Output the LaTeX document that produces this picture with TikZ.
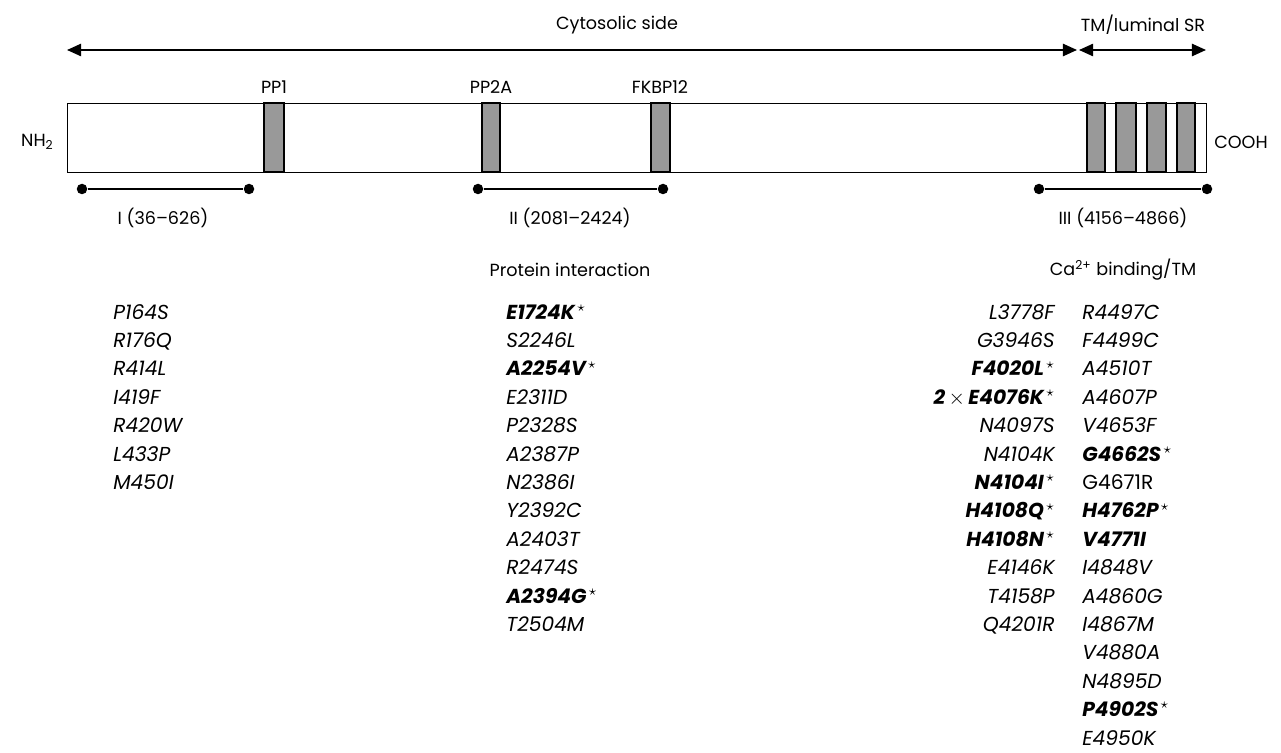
\documentclass[tikz,border=0pt]{standalone}
\usepackage{fontspec}
\setmainfont{Poppins}
\usetikzlibrary{arrows.meta}
\newcommand\mutb[1]{\textbf{\textit{#1}}}
\newcommand\mst{\textsuperscript{\,$\star$}}
\begin{document}
\begin{tikzpicture}[x=0.02cm,y=-0.02cm,
  lbl/.style={inner sep=0pt,font=\fontsize{10pt}{12pt}\selectfont},
  mut/.style={inner sep=0pt,font=\fontsize{11.5pt}{13pt}\selectfont\itshape},
  band/.style={draw=black,line width=0.7pt,fill=black!40},
  span/.style={line width=1.7pt},
  dot/.style={circle,fill=black,inner sep=0pt,minimum size=0.21cm},
  dbl/.style={line width=0.9pt,{Triangle[length=8pt,width=7pt]}-{Triangle[length=8pt,width=7pt]}}]
\useasboundingbox (0,0) rectangle (1281,753);
% top arrows
\coordinate (cytL) at (67,50);
\coordinate (cytR) at (1077,50);
\coordinate (tmL) at (1079,50);
\coordinate (tmR) at (1206,50);
\draw[dbl] (cytL) -- (cytR);
\draw[dbl] (tmL) -- (tmR);
\node[lbl] (cyt) at (617,25) {Cytosolic side};
\node[lbl] (tm) at (1143,25) {TM/luminal SR};
% protein bar
\node[draw,line width=0.7pt,minimum width=1139*0.02cm,minimum height=69*0.02cm,inner sep=0pt,anchor=north west] (bar) at (67,103) {};
\draw[band] (264,103) rectangle (284,172);
\draw[band] (482,103) rectangle (500,172);
\draw[band] (651,103) rectangle (670,172);
\draw[band] (1087,103) rectangle (1105,172);
\draw[band] (1116,103) rectangle (1136,172);
\draw[band] (1147,103) rectangle (1166,172);
\draw[band] (1177,103) rectangle (1195,172);
\node[lbl] (pp1) at (274,87) {PP1};
\node[lbl] (pp2a) at (491,87) {PP2A};
\node[lbl] (fkbp) at (660,87) {FKBP12};
\node[lbl,anchor=east] (nh2) at (54,142) {NH\textsubscript{2}};
\node[lbl,anchor=west] (cooh) at (1214,142) {COOH};
% spans
\node[dot] (i1) at (82,189) {};
\node[dot] (i2) at (249,189) {};
\node[dot] (ii1) at (478,189) {};
\node[dot] (ii2) at (663,189) {};
\node[dot] (iii1) at (1039,189) {};
\node[dot] (iii2) at (1207,189) {};
\draw[span] (i1) -- (i2);
\draw[span] (ii1) -- (ii2);
\draw[span] (iii1) -- (iii2);
\node[lbl] (li) at (163,218) {I (36–626)};
\node[lbl] (lii) at (570,218) {II (2081–2424)};
\node[lbl] (liii) at (1123,218) {III (4156–4866)};
\node[lbl] (pint) at (570,270) {Protein interaction};
\node[lbl] (cab) at (1123,270) {Ca\textsuperscript{2+} binding/TM};
% mutation lists
\foreach [count=\i] \t in {P164S,R176Q,R414L,I419F,R420W,L433P,M450I}
  \node[mut,anchor=base west,name=a\i] at (113,{319+28.4*(\i-1)}) {\t};
\foreach [count=\i] \t in {\mutb{E1724K}\mst,S2246L,\mutb{A2254V}\mst,E2311D,P2328S,A2387P,N2386I,Y2392C,A2403T,R2474S,\mutb{A2394G}\mst,T2504M}
  \node[mut,anchor=base west,name=b\i] at (506,{319+28.4*(\i-1)}) {\t};
\foreach [count=\i] \t in {L3778F,G3946S,\mutb{F4020L}\mst,{\mutb{2}\,{\upshape$\times$}\,\mutb{E4076K}\mst},N4097S,N4104K,\mutb{N4104I}\mst,\mutb{H4108Q}\mst,\mutb{H4108N}\mst,E4146K,T4158P,Q4201R}
  \node[mut,anchor=base east,name=c\i] at (1055,{319+28.4*(\i-1)}) {\t};
\foreach [count=\i] \t in {R4497C,F4499C,A4510T,A4607P,V4653F,\mutb{G4662S}\mst,{\upshape G4671R},\mutb{H4762P}\mst,\mutb{V4771I},I4848V,A4860G,I4867M,V4880A,N4895D,\mutb{P4902S}\mst,E4950K}
  \node[mut,anchor=base west,name=d\i] at (1082,{319+28.4*(\i-1)}) {\t};
\end{tikzpicture}
\end{document}
